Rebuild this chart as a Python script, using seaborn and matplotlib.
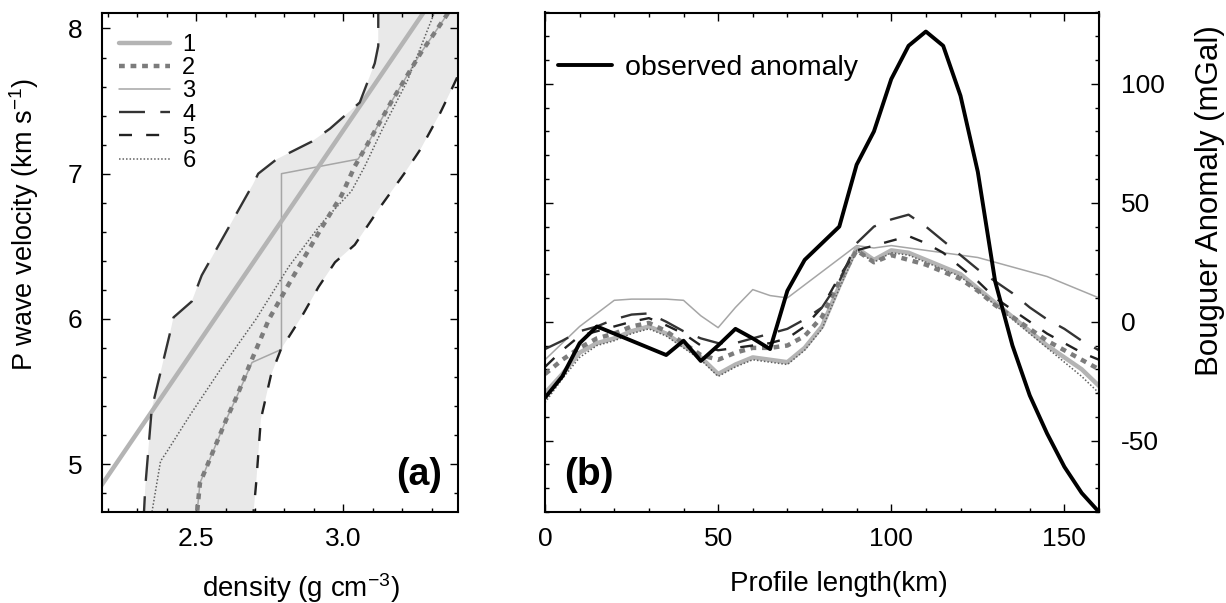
import numpy as np
import pandas as pd
import matplotlib
matplotlib.use("Agg")
import matplotlib.pyplot as plt
from matplotlib.ticker import MultipleLocator
from matplotlib.lines import Line2D
import seaborn as sns

sns.set_style("ticks")
plt.rcParams["font.family"] = ["Liberation Sans", "DejaVu Sans"]
plt.rcParams["mathtext.default"] = "regular"
plt.rcParams["axes.unicode_minus"] = False
for key in ["text.color", "axes.labelcolor", "xtick.color", "ytick.color"]:
    plt.rcParams[key] = "black"

# ---------------- Panel (a): density vs P-wave velocity ----------------
rho1 = [2.15, 3.31]
vp1 = [4.77, 8.22]

rho2 = [2.50, 2.513, 2.603, 2.637, 2.681, 2.748, 2.815, 2.927, 2.994, 3.039, 3.073, 3.162, 3.263, 3.341, 3.37]
vp2 = [4.60, 4.87, 5.31, 5.46, 5.68, 6.00, 6.24, 6.63, 6.85, 7.05, 7.17, 7.49, 7.83, 8.06, 8.15]

rho3 = [2.50, 2.513, 2.603, 2.637, 2.69, 2.79, 2.79, 3.05, 3.073, 3.162, 3.263, 3.341, 3.37]
vp3 = [4.60, 4.87, 5.31, 5.46, 5.70, 5.79, 7.00, 7.10, 7.17, 7.49, 7.83, 8.06, 8.15]

rho4 = [2.321, 2.327, 2.349, 2.412, 2.423, 2.485, 2.519, 2.694, 2.711, 2.774, 2.892, 2.955, 3.056, 3.107, 3.119, 3.119]
vp4 = [4.60, 4.84, 5.38, 5.91, 6.01, 6.12, 6.30, 6.93, 7.00, 7.10, 7.22, 7.31, 7.49, 7.76, 7.88, 8.30]

rho5 = [2.692, 2.704, 2.720, 2.754, 2.788, 2.860, 2.916, 2.972, 3.039, 3.129, 3.207, 3.263, 3.330, 3.375, 3.45]
vp5 = [4.60, 4.87, 5.31, 5.61, 5.79, 6.02, 6.22, 6.39, 6.51, 6.78, 7.00, 7.17, 7.42, 7.61, 7.94]

rho6 = [2.344, 2.379, 2.402, 2.480, 2.592, 2.704, 2.815, 2.927, 3.028, 3.073, 3.129, 3.218, 3.308]
vp6 = [4.60, 5.02, 5.09, 5.34, 5.68, 6.00, 6.36, 6.66, 6.88, 7.05, 7.29, 7.64, 8.10]

legend_labels_a = ["1", "2", "3", "4", "5", "6"]

# ---------------- Panel (b): Bouguer anomaly profiles ----------------
km = [0, 5, 10, 15, 20, 25, 30, 35, 40, 45, 50, 55, 60, 65, 70, 75, 80,
      85, 90, 95, 100, 105, 110, 115, 120, 125, 130, 135, 140, 145, 150, 155, 160]
observed = [-32, -23, -9, -2, -5, -8, -11, -14, -8, -16.5, -10, -3, -7, -11.5, 13, 26, 33,
            40, 66, 80, 102, 116, 122, 116, 95, 63, 17, -10, -31, -47, -61, -72, -80]
model1 = [-30, -22, -13, -9, -7, -4, -2, -5, -10, -15, -22, -18, -15, -16, -17, -11, -2,
          15, 31, 26, 30, 29, 26, 23, 20, 14, 8, 2, -4, -10, -15, -20, -27]
model2 = [-22, -16, -11, -7, -5, -2, -0.5, -4, -9, -14, -16, -13, -11, -11, -10, -6, 2,
          17, 30, 25, 28, 26, 24, 21, 18, 13, 7, 2, -3, -8, -12, -16, -20]
model3 = [-16, -9, -2, 3.5, 9, 9.5, 9.5, 9.5, 9, 2.5, -2.5, 6, 13.5, 11, 10, 15.5, 21,
          26.5, 32, 31, 32, 31, 30, 29, 28, 27, 25, 23, 21, 19, 16, 13, 10]
model4 = [-11.5, -8, -4, -2, 1, 3, 3.5, 0, -4, -7, -9, -9, -7, -5, -3, 1, 6,
          17, 33, 40, 43, 45, 40, 34, 28, 22, 17, 12, 6, 1, -3, -8, -12]
model5 = [-19, -12, -6, -4, -2, 0, 1.5, -1.5, -5, -10, -12, -11, -10, -9, -7, -2, 6,
          19, 30, 32, 34, 36, 33, 29, 23, 17, 10, 5, 0, -5, -9, -13, -16]
model6 = [-34, -24, -15, -10, -8, -5, -3, -6, -11, -16, -23, -19, -16, -17, -18, -12, -3,
          14, 30, 25, 29, 28, 25, 22, 19, 13, 7, 1, -5, -11, -17, -23, -30]

# ---------------- styles ----------------
styles = {
    "1": dict(color="#b4b4b4", lw=3.2, ls="-"),
    "2": dict(color="#7c7c7c", lw=3.2, ls=(0, (1.3, 1.3))),
    "3": dict(color="#a6a6a6", lw=1.1, ls="-"),
    "4": dict(color="#333333", lw=1.7, ls=(0, (11, 6.5))),
    "5": dict(color="#222222", lw=1.7, ls=(0, (5.5, 6))),
    "6": dict(color="#606060", lw=1.1, ls=(0, (1, 1.3))),
}

fig = plt.figure(figsize=(12.26, 6.03), dpi=100)
ax1 = fig.add_axes([102 / 1226, 1 - 512 / 603, 356 / 1226, 499.5 / 603])
ax2 = fig.add_axes([545 / 1226, 1 - 512 / 603, 554 / 1226, 499.5 / 603])

TICK_FS = 19
LABEL_FS = 20

# shaded envelope between curves 4 and 5
poly_x = rho4 + [3.6, 3.6] + rho5[::-1]
poly_y = vp4 + [8.3, 7.94] + vp5[::-1]
ax1.fill(poly_x, poly_y, color="#e9e9e9", lw=0, zorder=0)

curves_a = {"1": (rho1, vp1), "2": (rho2, vp2), "3": (rho3, vp3),
            "4": (rho4, vp4), "5": (rho5, vp5), "6": (rho6, vp6)}
for name in ["3", "1", "4", "5", "6", "2"]:
    r, v = curves_a[name]
    st = styles[name]
    sns.lineplot(x=r, y=v, sort=False, estimator=None, ax=ax1,
                 color=st["color"], lw=st["lw"], linestyle=st["ls"], zorder=2)

ax1.set_xlim(2.18, 3.39)
ax1.set_ylim(4.67, 8.11)
ax1.xaxis.set_major_locator(MultipleLocator(0.5))
ax1.xaxis.set_minor_locator(MultipleLocator(0.1))
ax1.yaxis.set_major_locator(MultipleLocator(1))
ax1.yaxis.set_minor_locator(MultipleLocator(0.2))
ax1.set_xticks([2.5, 3.0])
ax1.set_xticklabels(["2.5", "3.0"])
ax1.set_xlabel("density (g cm$^{-3}$)", fontsize=LABEL_FS)
ax1.xaxis.set_label_coords(0.56, -0.118)
ax1.set_ylabel("P wave velocity (km s$^{-1}$)", fontsize=19.5)
ax1.yaxis.set_label_coords(-0.172, 0.575)
ax1.tick_params(axis="both", which="both", direction="in", top=True, right=True,
                labelsize=TICK_FS, width=1.0)
ax1.tick_params(axis="both", which="major", length=6)
ax1.tick_params(axis="both", which="minor", length=3)
ax1.tick_params(axis="x", pad=11)
ax1.tick_params(axis="y", pad=14)

handles_a = [Line2D([0], [0], color=styles[k]["color"], lw=styles[k]["lw"],
                    linestyle=styles[k]["ls"]) for k in legend_labels_a]
ax1.legend(handles_a, legend_labels_a, loc="upper left", frameon=False,
           fontsize=17, handlelength=2.2, handletextpad=0.5, labelspacing=0.05,
           borderaxespad=0.3, bbox_to_anchor=(0.0, 0.99))
ax1.text(0.955, 0.055, "(a)", transform=ax1.transAxes, ha="right", va="baseline",
         fontsize=27, fontweight="bold")

# ---------------- Panel (b) ----------------
models_b = {"1": model1, "2": model2, "3": model3, "4": model4, "5": model5, "6": model6}
for name in ["3", "1", "6", "2", "5", "4"]:
    st = styles[name]
    sns.lineplot(x=km, y=models_b[name], sort=False, estimator=None, ax=ax2,
                 color=st["color"], lw=st["lw"], linestyle=st["ls"], zorder=2)
sns.lineplot(x=km, y=observed, sort=False, estimator=None, ax=ax2,
             color="black", lw=2.8, zorder=3)

ax2.set_xlim(0, 160)
ax2.set_ylim(-80, 130)
ax2.xaxis.set_major_locator(MultipleLocator(50))
ax2.xaxis.set_minor_locator(MultipleLocator(10))
ax2.yaxis.set_major_locator(MultipleLocator(50))
ax2.yaxis.set_minor_locator(MultipleLocator(10))
ax2.yaxis.tick_right()
ax2.yaxis.set_label_position("right")
ax2.tick_params(axis="both", which="both", direction="in", top=True, left=True, right=True,
                labelleft=False, labelright=True, labelsize=TICK_FS, width=1.0)
ax2.tick_params(axis="both", which="major", length=6)
ax2.tick_params(axis="both", which="minor", length=3)
ax2.tick_params(axis="x", pad=11)
ax2.tick_params(axis="y", pad=16)
ax2.set_xlabel("Profile length(km)", fontsize=LABEL_FS)
ax2.xaxis.set_label_coords(0.53, -0.118)
ax2.set_ylabel("Bouguer Anomaly (mGal)", fontsize=22.5)
ax2.yaxis.set_label_coords(1.174, 0.624)

ax2.legend([Line2D([0], [0], color="black", lw=2.8)], ["observed anomaly"],
           loc="upper left", frameon=False, fontsize=20.5, handlelength=1.9,
           handletextpad=0.45, borderaxespad=0.3, bbox_to_anchor=(-0.012, 0.954))
ax2.text(0.035, 0.055, "(b)", transform=ax2.transAxes, ha="left", va="baseline",
         fontsize=28, fontweight="bold")

for ax in (ax1, ax2):
    for sp in ax.spines.values():
        sp.set_linewidth(1.5)
        sp.set_color("black")

fig.savefig("out.png", dpi=100)
